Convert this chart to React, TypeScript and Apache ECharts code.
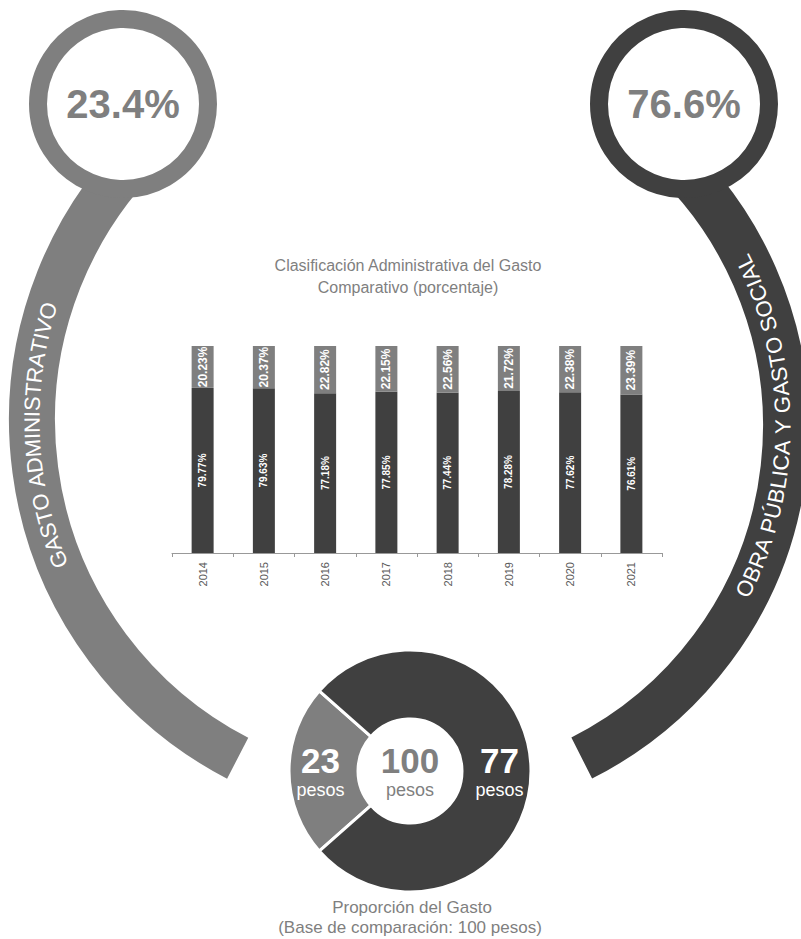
import React, { useEffect, useRef } from 'react';
import * as echarts from 'echarts';

// ---------- data ----------
const years = ['2014', '2015', '2016', '2017', '2018', '2019', '2020', '2021'];
const adminShare = [20.23, 20.37, 22.82, 22.15, 22.56, 21.72, 22.38, 23.39];
const obraShare = [79.77, 79.63, 77.18, 77.85, 77.44, 78.28, 77.62, 76.61];
const pesosNames = ['Gasto administrativo', 'Obra pública y gasto social'];
const pesosValues = [23, 77];
const totalPesos = 100;
const headlinePercents = ['23.4%', '76.6%'];
const arcLabels = ['GASTO ADMINISTRATIVO', 'OBRA PÚBLICA Y GASTO SOCIAL'];
const chartTitle = ['Clasificación Administrativa del Gasto', 'Comparativo (porcentaje)'];
const donutTitle = ['Proporción del Gasto', '(Base de comparación: 100 pesos)'];

// ---------- styles ----------
const GRAY = '#7f7f7f';
const DARK = '#404040';
const FONT = '"Liberation Sans", Arial, Helvetica, sans-serif';

function arcText(text: string, cx: number, cy: number, R: number, midDeg: number, dir: number, fontSize: number, color: string) {
  const canvas = document.createElement('canvas');
  const ctx = canvas.getContext('2d')!;
  ctx.font = `${fontSize}px ${FONT}`;
  const chars = Array.from(text);
  const widths = chars.map((ch) => ctx.measureText(ch).width);
  const L = widths.reduce((a, b) => a + b, 0);
  const mid = (midDeg * Math.PI) / 180;
  let s = 0;
  const els: any[] = [];
  chars.forEach((ch, i) => {
    const pos = s + widths[i] / 2 - L / 2;
    s += widths[i];
    const th = mid + (dir * pos) / R;
    const x = cx + R * Math.cos(th);
    const y = cy + R * Math.sin(th);
    const rot = dir > 0 ? -(th + Math.PI / 2) : Math.PI / 2 - th;
    els.push({
      type: 'text',
      x,
      y,
      rotation: rot,
      z: 5,
      silent: true,
      style: { text: ch, fill: color, fontSize, fontFamily: FONT, align: 'center', verticalAlign: 'middle' },
    });
  });
  return els;
}

const deg = (d: number) => (d * Math.PI) / 180;

export default function App() {
  const ref = useRef<HTMLDivElement>(null);
  useEffect(() => {
    if (!ref.current) return;
    const chart = echarts.init(ref.current, undefined, { renderer: 'svg' });

    const L = { cx: 413, cy: 420, r: 381 };
    const Rr = { cx: 414, cy: 426, r: 372 };

    const numRich = (color: string) => ({
      v: { fontSize: 35, fontWeight: 'bold', color, fill: color, fontFamily: FONT, lineHeight: 38, align: 'center' },
      p: { fontSize: 18, color, fill: color, fontFamily: FONT, lineHeight: 22, align: 'center' },
    });

    const graphics: any[] = [
      // big arcs
      {
        type: 'arc', z: 0, silent: true,
        shape: { cx: L.cx, cy: L.cy, r: L.r, startAngle: deg(117.4), endAngle: deg(227.5), clockwise: true },
        style: { stroke: GRAY, lineWidth: 46, fill: null, lineCap: 'butt' },
      },
      {
        type: 'arc', z: 0, silent: true,
        shape: { cx: Rr.cx, cy: Rr.cy, r: Rr.r, startAngle: deg(-50.2), endAngle: deg(63.2), clockwise: true },
        style: { stroke: DARK, lineWidth: 46, fill: null, lineCap: 'butt' },
      },
      // circles
      {
        type: 'circle', z: 1, silent: true,
        shape: { cx: 123, cy: 104, r: 85 },
        style: { fill: '#fff', stroke: GRAY, lineWidth: 18 },
      },
      {
        type: 'circle', z: 1, silent: true,
        shape: { cx: 684, cy: 104, r: 85 },
        style: { fill: '#fff', stroke: DARK, lineWidth: 18 },
      },
      {
        type: 'text', z: 2, x: 123, y: 104, silent: true,
        style: { text: headlinePercents[0], fill: GRAY, fontSize: 40, fontWeight: 'bold', fontFamily: FONT, align: 'center', verticalAlign: 'middle' },
      },
      {
        type: 'text', z: 2, x: 684, y: 104, silent: true,
        style: { text: headlinePercents[1], fill: GRAY, fontSize: 40, fontWeight: 'bold', fontFamily: FONT, align: 'center', verticalAlign: 'middle' },
      },
      // chart title
      {
        type: 'text', z: 2, x: 408, y: 265, silent: true,
        style: { text: chartTitle[0], fill: GRAY, fontSize: 16, fontFamily: FONT, align: 'center', verticalAlign: 'middle' },
      },
      {
        type: 'text', z: 2, x: 408, y: 287, silent: true,
        style: { text: chartTitle[1], fill: GRAY, fontSize: 16, fontFamily: FONT, align: 'center', verticalAlign: 'middle' },
      },
      // donut center
      {
        type: 'text', z: 10, x: 410, y: 771, silent: true,
        style: {
          text: `{v|${totalPesos}}\n{p|pesos}`,
          align: 'center', verticalAlign: 'middle',
          rich: numRich(GRAY),
        },
      },
      // donut title
      {
        type: 'text', z: 2, x: 412, y: 907, silent: true,
        style: { text: donutTitle[0], fill: GRAY, fontSize: 17, fontFamily: FONT, align: 'center', verticalAlign: 'middle' },
      },
      {
        type: 'text', z: 2, x: 410, y: 927, silent: true,
        style: { text: donutTitle[1], fill: GRAY, fontSize: 17, fontFamily: FONT, align: 'center', verticalAlign: 'middle' },
      },
      ...arcText(arcLabels[0], L.cx, L.cy, L.r, 177.6, 1, 22, '#fff'),
      ...arcText(arcLabels[1], Rr.cx, Rr.cy, Rr.r - 3, 0, -1, 22, '#fff'),
    ];

    const pctFmt = (p: any) => `${Number(p.value).toFixed(2)}%`;

    chart.setOption({
      animation: false,
      graphic: { elements: graphics },
      grid: { left: 172, right: 139, top: 346, bottom: 386 },
      xAxis: {
        type: 'category',
        data: years,
        axisLine: { lineStyle: { color: '#999', width: 1 } },
        axisTick: { show: true, length: 4, lineStyle: { color: '#999' } },
        axisLabel: { rotate: 90, fontSize: 11, color: '#595959', margin: 9, fontFamily: FONT },
      },
      yAxis: { type: 'value', min: 0, max: 100, show: false, splitLine: { show: false } },
      series: [
        {
          name: 'Obra pública y gasto social',
          type: 'bar',
          stack: 'total',
          data: obraShare,
          barWidth: 22,
          itemStyle: { color: DARK },
          label: { show: true, position: 'inside', rotate: 90, formatter: pctFmt, color: '#fff', fontSize: 10, fontWeight: 'bold', fontFamily: FONT },
          emphasis: { disabled: true },
        },
        {
          name: 'Gasto administrativo',
          type: 'bar',
          stack: 'total',
          data: adminShare,
          barWidth: 22,
          itemStyle: { color: GRAY },
          label: { show: true, position: 'inside', rotate: 90, formatter: pctFmt, color: '#fff', fontSize: 12, fontWeight: 'bold', fontFamily: FONT },
          emphasis: { disabled: true },
        },
        {
          type: 'pie',
          center: [410, 771],
          radius: [52, 121],
          startAngle: 221.4,
          clockwise: true,
          z: 3,
          itemStyle: { borderColor: '#fff', borderWidth: 3 },
          emphasis: { disabled: true },
          labelLine: { show: false },
          label: {
            show: true,
            position: 'inside',
            formatter: '{v|{c}}\n{p|pesos}',
            rich: numRich('#fff'),
          },
          data: pesosNames.map((n, i) => ({ name: n, value: pesosValues[i], itemStyle: { color: i === 0 ? GRAY : DARK } })),
        },
      ],
    });
    return () => chart.dispose();
  }, []);
  return <div ref={ref} style={{ position: 'absolute', left: 0, top: 0, width: 801, height: 939 }} />;
}
